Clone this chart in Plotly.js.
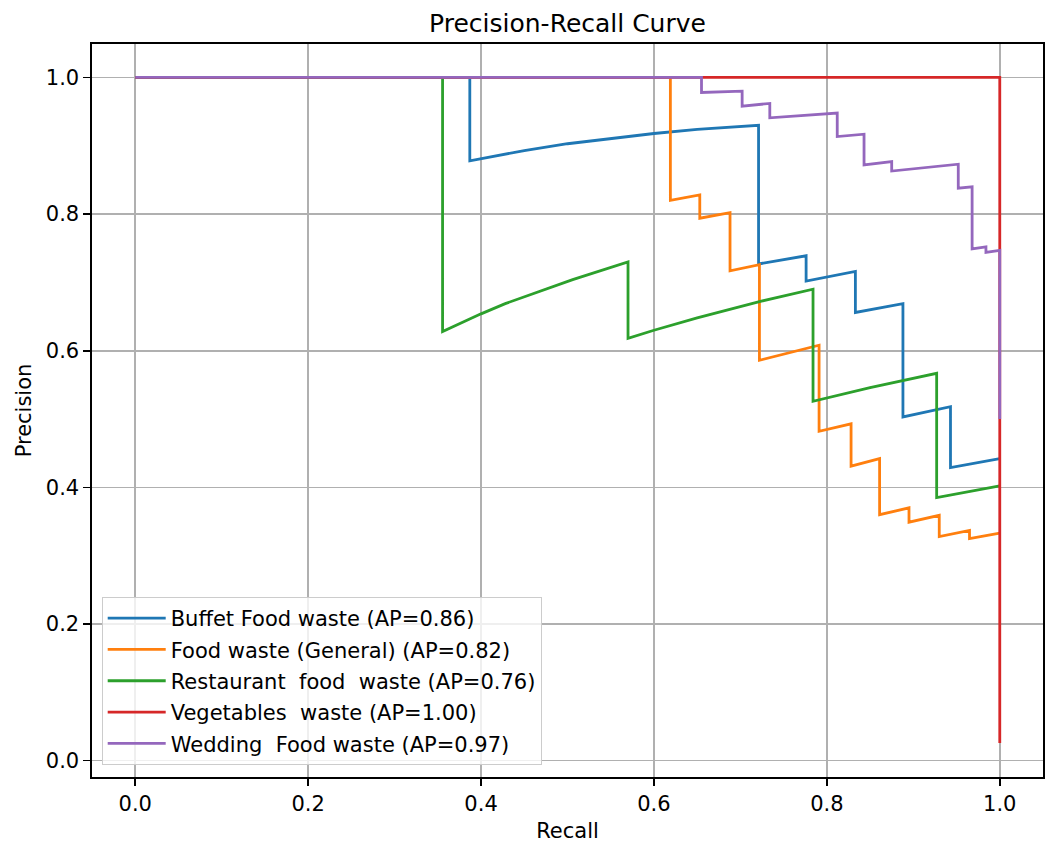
<!DOCTYPE html>
<html>
<head>
<meta charset="utf-8">
<script src="https://cdn.plot.ly/plotly-3.0.1.min.js"></script>
<style>html,body{margin:0;padding:0;background:#fff;}#chart{width:1046px;height:849px;}</style>
</head>
<body>
<div id="chart"></div>
<script>
// Series names
const seriesNames = [
  "Buffet Food waste (AP=0.86)",
  "Food waste (General) (AP=0.82)",
  "Restaurant  food  waste (AP=0.76)",
  "Vegetables  waste (AP=1.00)",
  "Wedding  Food waste (AP=0.97)"
];
const seriesColors = ["#1f77b4", "#ff7f0e", "#2ca02c", "#d62728", "#9467bd"];

// Buffet Food waste
const recallBuffet =    [0, 0.387, 0.387, 0.45, 0.50, 0.55, 0.60, 0.65, 0.721, 0.721, 0.776, 0.776, 0.833, 0.833, 0.888, 0.888, 0.943, 0.943, 1.0];
const precisionBuffet = [1, 1, 0.878, 0.893, 0.903, 0.911, 0.918, 0.924, 0.930, 0.727, 0.739, 0.702, 0.716, 0.656, 0.669, 0.503, 0.518, 0.429, 0.442];

// Food waste (General)
const recallGeneral =    [0, 0.619, 0.619, 0.653, 0.653, 0.688, 0.688, 0.722, 0.722, 0.791, 0.791, 0.828, 0.828, 0.861, 0.861, 0.895, 0.895, 0.930, 0.930, 0.965, 0.965, 1.0];
const precisionGeneral = [1, 1, 0.820, 0.828, 0.794, 0.802, 0.717, 0.726, 0.586, 0.608, 0.482, 0.493, 0.431, 0.442, 0.360, 0.370, 0.349, 0.359, 0.328, 0.337, 0.325, 0.333];

// Restaurant food waste
const recallRestaurant =    [0, 0.3555, 0.3555, 0.40, 0.428, 0.506, 0.570, 0.570, 0.60, 0.65, 0.722, 0.784, 0.784, 0.85, 0.927, 0.927, 1.0];
const precisionRestaurant = [1, 1, 0.628, 0.654, 0.669, 0.704, 0.730, 0.618, 0.630, 0.648, 0.672, 0.690, 0.526, 0.546, 0.567, 0.385, 0.402];

// Vegetables waste
const recallVegetables =    [0, 1.0, 1.0];
const precisionVegetables = [1, 1, 0.0256];

// Wedding Food waste
const recallWedding =    [0, 0.655, 0.655, 0.702, 0.702, 0.734, 0.734, 0.812, 0.812, 0.843, 0.843, 0.875, 0.875, 0.952, 0.952, 0.968, 0.968, 0.984, 0.984, 1.0, 1.0];
const precisionWedding = [1, 1, 0.978, 0.980, 0.958, 0.962, 0.941, 0.948, 0.9135, 0.917, 0.872, 0.877, 0.863, 0.873, 0.838, 0.840, 0.749, 0.752, 0.744, 0.747, 0.500];

const xTicks = [0.0, 0.2, 0.4, 0.6, 0.8, 1.0];
const xTickLabels = ["0.0", "0.2", "0.4", "0.6", "0.8", "1.0"];
const yTicks = [0.0, 0.2, 0.4, 0.6, 0.8, 1.0];
const yTickLabels = ["0.0", "0.2", "0.4", "0.6", "0.8", "1.0"];

const allRecall = [recallBuffet, recallGeneral, recallRestaurant, recallVegetables, recallWedding];
const allPrecision = [precisionBuffet, precisionGeneral, precisionRestaurant, precisionVegetables, precisionWedding];

const FONT = "DejaVu Sans, Liberation Sans, sans-serif";

const traces = allRecall.map((r, i) => ({
  x: r,
  y: allPrecision[i],
  type: "scatter",
  mode: "lines",
  name: seriesNames[i],
  legendgroup: "g" + i,
  line: {color: seriesColors[i], width: 2.8}
}));

const axisCommon = {
  showline: true,
  mirror: true,
  linecolor: "#000000",
  linewidth: 1.6,
  ticks: "outside",
  ticklen: 7,
  tickwidth: 1.6,
  tickcolor: "#000000",
  showgrid: true,
  gridcolor: "#b0b0b0",
  gridwidth: 1.6,
  zeroline: false,
  tickfont: {family: FONT, size: 21, color: "#000000"}
};

const layout = {
  width: 1046,
  height: 849,
  paper_bgcolor: "#ffffff",
  plot_bgcolor: "#ffffff",
  margin: {l: 92, r: 3, t: 44, b: 72, pad: 0},
  title: {
    text: "Precision-Recall Curve",
    font: {family: FONT, size: 25, color: "#000000"},
    x: 0.5, xref: "paper", xanchor: "center",
    y: 1 - 23 / 849, yref: "container", yanchor: "middle"
  },
  xaxis: Object.assign({}, axisCommon, {
    range: [-0.05, 1.05],
    tickvals: xTicks,
    ticktext: xTickLabels,
    title: {text: "Recall", font: {family: FONT, size: 21, color: "#000000"}, standoff: 8}
  }),
  yaxis: Object.assign({}, axisCommon, {
    range: [-0.024, 1.049],
    tickvals: yTicks,
    ticktext: yTickLabels,
    title: {text: "Precision", font: {family: FONT, size: 21, color: "#000000"}, standoff: 8}
  }),
  showlegend: true,
  legend: {
    x: 0.0102, xanchor: "left",
    y: 0.0164, yanchor: "bottom",
    bgcolor: "rgba(255,255,255,0.8)",
    bordercolor: "#cccccc",
    borderwidth: 1,
    font: {family: FONT, size: 21, color: "#000000"},
    tracegroupgap: 1,
    itemwidth: 58
  }
};

Plotly.newPlot("chart", traces, layout, {displayModeBar: false, staticPlot: true});
</script>
</body>
</html>
